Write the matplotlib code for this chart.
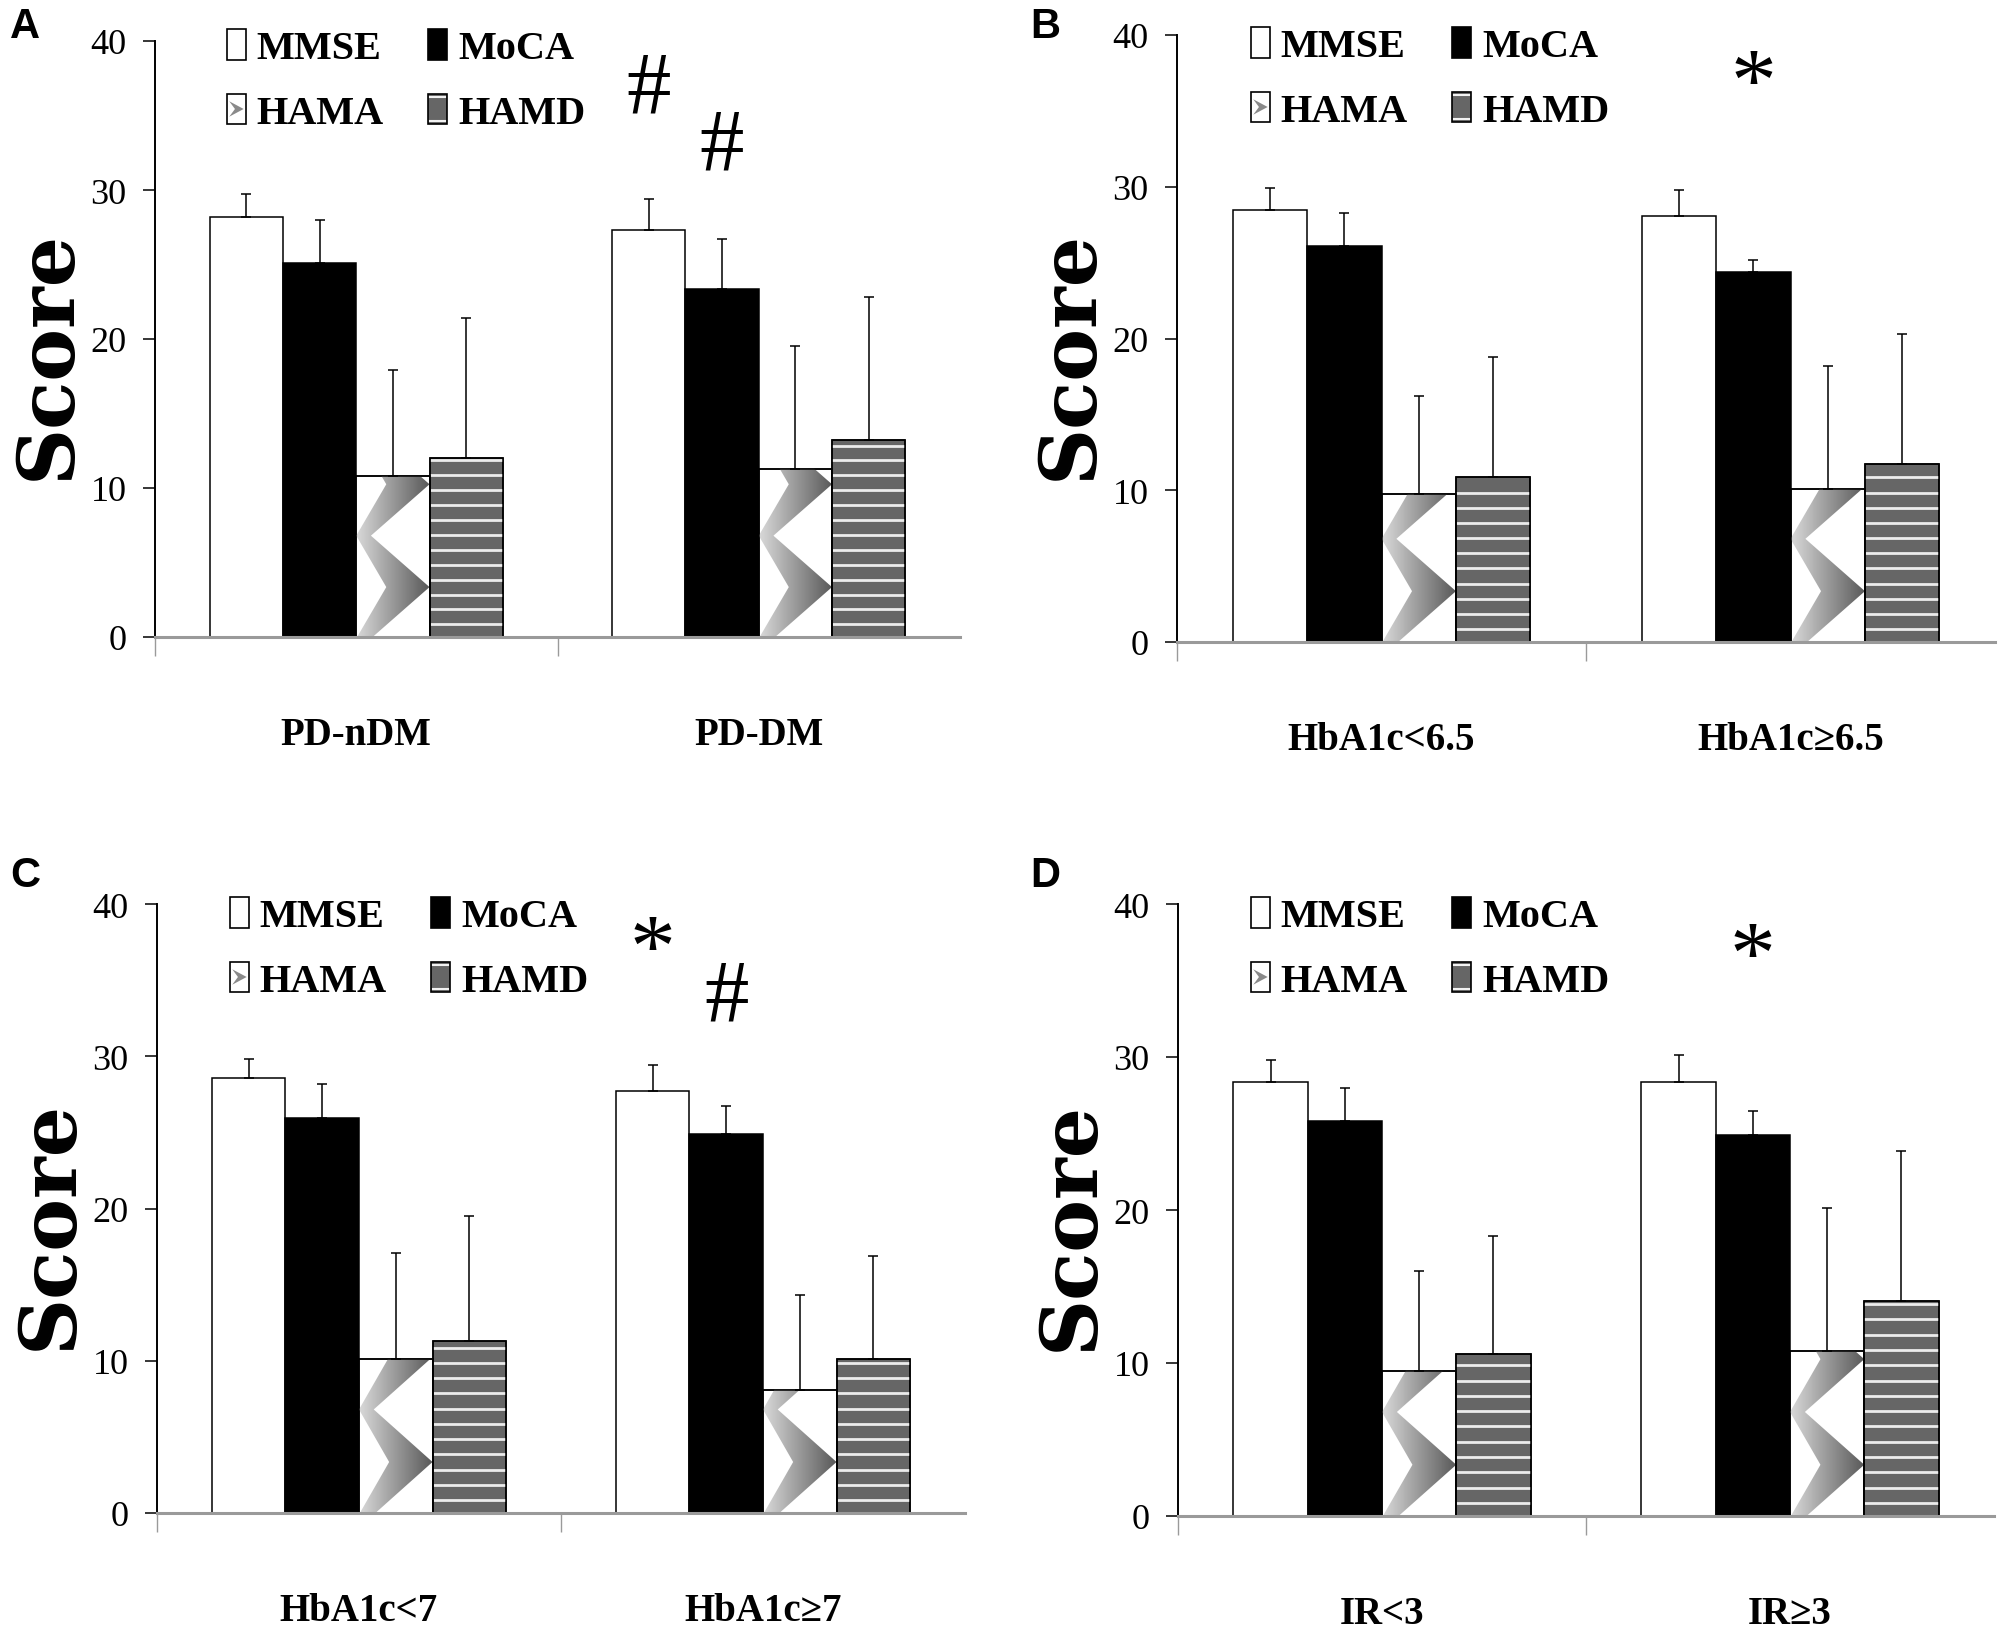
import numpy as np
import matplotlib
matplotlib.use("Agg")
import matplotlib.pyplot as plt
from matplotlib.patches import Rectangle, Polygon, Patch
from matplotlib.lines import Line2D
from matplotlib.collections import LineCollection
from matplotlib.legend_handler import HandlerBase

plt.rcParams['font.family'] = ['Liberation Serif', 'DejaVu Serif']

# ---------------- data ----------------
series = ["MMSE", "MoCA", "HAMA", "HAMD"]
letters = ["A", "B", "C", "D"]

cats_A = ["PD-nDM", "PD-DM"]
mean_A = [[28.2, 25.1, 10.8, 12.0], [27.3, 23.35, 11.3, 13.2]]
sd_A = [[1.5, 2.9, 7.15, 9.4], [2.1, 3.35, 8.2, 9.6]]
sig_A = [("#", 1, 0, 36.7), ("#", 1, 1, 32.9)]

cats_B = ["HbA1c<6.5", "HbA1c≥6.5"]
mean_B = [[28.5, 26.1, 9.75, 10.9], [28.05, 24.4, 10.1, 11.75]]
sd_B = [[1.4, 2.15, 6.45, 7.9], [1.75, 0.8, 8.1, 8.55]]
sig_B = [("*", 1, 1, 37.6)]

cats_C = ["HbA1c<7", "HbA1c≥7"]
mean_C = [[28.55, 25.95, 10.1, 11.3], [27.7, 24.9, 8.1, 10.1]]
sd_C = [[1.25, 2.25, 7.0, 8.2], [1.75, 1.8, 6.2, 6.8]]
sig_C = [("*", 1, 0, 37.8), ("#", 1, 1, 33.8)]

cats_D = ["IR<3", "IR≥3"]
mean_D = [[28.35, 25.8, 9.5, 10.6], [28.35, 24.9, 10.8, 14.05]]
sd_D = [[1.45, 2.2, 6.5, 7.7], [1.75, 1.55, 9.3, 9.8]]
sig_D = [("*", 1, 1, 37.4)]

yticks = [0, 10, 20, 30, 40]

# ---------------- layout / style ----------------
W, H = 2005, 1640
fig = plt.figure(figsize=(W / 100, H / 100), dpi=100)

# axes boxes in pixels: left, top, right, bottom
boxes = {
    "A": (155, 42, 960, 638),
    "B": (1177, 36, 1995, 643),
    "C": (157, 905, 965, 1514),
    "D": (1178, 905, 1994, 1517),
}
letter_pos = {"A": (10, 38), "B": (1030, 38), "C": (10, 887), "D": (1030, 887)}
legend_px = {"A": (227, 30), "B": (1251, 28), "C": (230, 898), "D": (1251, 898)}

panels = {
    "A": (cats_A, mean_A, sd_A, sig_A),
    "B": (cats_B, mean_B, sd_B, sig_B),
    "C": (cats_C, mean_C, sd_C, sig_C),
    "D": (cats_D, mean_D, sd_D, sig_D),
}

face = {"MMSE": "white", "MoCA": "black", "HAMA": "white", "HAMD": "#666666"}
bw = 0.182
CHEV_PERIOD = 6.9


def tri(y):
    u = ((y + 0.1) % CHEV_PERIOD) / CHEV_PERIOD
    return 1 - np.abs(2 * u - 1)


def chevron_fill(ax, r):
    x0, w, h = r.get_x(), r.get_width(), r.get_height()
    ys = np.linspace(0, h, 500)
    t = tri(ys)
    L = x0 + w * 0.41 * t
    R = x0 + w * np.minimum(0.2 + 0.8 * t, 1.0)
    verts = np.concatenate([np.column_stack([L, ys]),
                            np.column_stack([R[::-1], ys[::-1]])])
    poly = Polygon(verts, closed=True, transform=ax.transData,
                   facecolor='none', edgecolor='none')
    grad = np.linspace(0.85, 0.35, 64)[None, :]
    im = ax.imshow(grad, cmap='gray', vmin=0, vmax=1, extent=[x0, x0 + w, 0, h],
                   aspect='auto', origin='lower', zorder=1.5, interpolation='bilinear')
    im.set_clip_path(poly)


def stripe_fill(ax, r):
    x0, w, h = r.get_x(), r.get_width(), r.get_height()
    ys = np.arange(0.85, h - 0.1, 1.0)
    segs = [[(x0, y), (x0 + w, y)] for y in ys]
    lc = LineCollection(segs, colors='#ececec', linewidths=2.0, zorder=1.5)
    ax.add_collection(lc)
    lc.set_clip_path(r)


class ChevronHandle(Patch):
    pass


class StripeHandle(Patch):
    pass


class HandlerChevron(HandlerBase):
    def create_artists(self, legend, orig_handle, xdescent, ydescent,
                       width, height, fontsize, trans):
        x0, y0 = -xdescent, -ydescent
        bg = Rectangle((x0, y0), width, height, facecolor='white',
                       edgecolor='black', lw=1.2, transform=trans)
        chev = Polygon([[x0 + 0.12 * width, y0 + 0.25 * height],
                        [x0 + 0.88 * width, y0 + 0.5 * height],
                        [x0 + 0.12 * width, y0 + 0.75 * height],
                        [x0 + 0.42 * width, y0 + 0.5 * height]],
                       closed=True, facecolor='#8a8a8a', edgecolor='none',
                       transform=trans)
        return [bg, chev]


class HandlerStripes(HandlerBase):
    def create_artists(self, legend, orig_handle, xdescent, ydescent,
                       width, height, fontsize, trans):
        x0, y0 = -xdescent, -ydescent
        bg = Rectangle((x0, y0), width, height, facecolor='#666666',
                       edgecolor='black', lw=1.2, transform=trans)
        arts = [bg]
        for f in (0.12, 0.88):
            arts.append(Line2D([x0 + 0.1 * width, x0 + 0.9 * width],
                               [y0 + f * height, y0 + f * height],
                               color='#f2f2f2', lw=1.5, transform=trans))
        return arts


for key in letters:
    cats, means, sds, sigs = panels[key]
    means = np.array(means)
    sds = np.array(sds)
    l, t, r_, b = boxes[key]
    ax = fig.add_axes([l / W, 1 - b / H, (r_ - l) / W, (b - t) / H])
    xc = np.arange(len(cats))
    for i, s in enumerate(series):
        xs = xc + (i - 1.5) * bw
        bars = ax.bar(xs, means[:, i], bw, color=face[s], edgecolor='black',
                      linewidth=1.1, zorder=1)
        if s in ("HAMA", "HAMD"):
            for rr in bars:
                if s == "HAMA":
                    chevron_fill(ax, rr)
                else:
                    stripe_fill(ax, rr)
                ax.add_patch(Rectangle(rr.get_xy(), rr.get_width(), rr.get_height(),
                                       fill=False, edgecolor='black', linewidth=1.1,
                                       zorder=2))
        ax.errorbar(xs, means[:, i], yerr=[np.zeros(len(cats)), sds[:, i]],
                    fmt='none', ecolor='black', elinewidth=1.1, capsize=3.6,
                    capthick=1.1, zorder=3)

    for sym, ci, si, yv in sigs:
        xv = xc[ci] + (si - 1.5) * bw
        fs = 64 if sym == "#" else 66
        dy = -0.18 * fs if sym == "*" else 0
        ax.annotate(sym, xy=(xv, yv), xytext=(0, dy), textcoords='offset points',
                    ha='center', va='center', fontsize=fs, color='black', zorder=4)

    ax.set_xlim(-0.5, len(cats) - 0.5)
    ax.set_ylim(0, 40)
    ax.set_yticks(yticks)
    ax.tick_params(axis='y', direction='out', length=8.6, width=1.1, pad=12,
                   labelsize=26, colors='black')
    ax.set_xticks(xc)
    ax.set_xticklabels(cats, fontsize=28, fontweight='bold')
    ax.tick_params(axis='x', which='major', length=0, pad=57)
    ax.set_xticks(np.arange(len(cats)) - 0.5, minor=True)
    ax.tick_params(axis='x', which='minor', direction='out', length=14, width=1.0,
                   color='#9a9a9a')
    for sp in ("top", "right"):
        ax.spines[sp].set_visible(False)
    ax.spines['left'].set_linewidth(1.4)
    ax.spines['left'].set_color('black')
    ax.spines['bottom'].set_linewidth(2.2)
    ax.spines['bottom'].set_color('#9a9a9a')

    ax.set_ylabel("Score", fontsize=57, fontweight='bold',
                  family=['DejaVu Serif'])
    ax.yaxis.label.set_rotation_mode('default')
    ax.yaxis.label.set_verticalalignment('center')
    ax.yaxis.set_label_coords(-107 / (r_ - l), 0.475)

    hx, hy = legend_px[key]
    handles = [Patch(facecolor='white', edgecolor='black', lw=1.2),
               ChevronHandle(),
               Patch(facecolor='black', edgecolor='black', lw=1.2),
               StripeHandle()]
    labels = ["MMSE", "HAMA", "MoCA", "HAMD"]
    ax.legend(handles, labels, ncol=2, loc='upper left',
              bbox_to_anchor=((hx - l) / (r_ - l), 1 + (t - hy) / (b - t)),
              bbox_transform=ax.transAxes, frameon=False, borderpad=0,
              borderaxespad=0, handlelength=0.47, handleheight=0.8,
              handletextpad=0.27, columnspacing=1.1, labelspacing=0.65,
              prop={'size': 29, 'weight': 'bold'},
              handler_map={ChevronHandle: HandlerChevron(),
                           StripeHandle: HandlerStripes()})

    lx, ly = letter_pos[key]
    fig.text(lx / W, 1 - ly / H, key, ha='left', va='baseline', fontsize=30,
             fontweight='bold', family=['Liberation Sans', 'DejaVu Sans'])

fig.savefig("out.png", dpi=100)
